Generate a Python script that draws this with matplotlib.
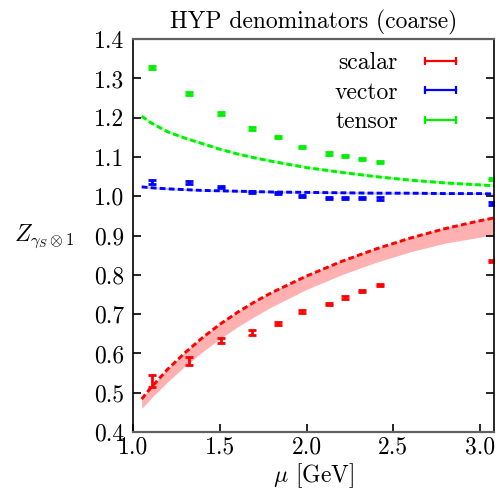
import numpy as np
import matplotlib
matplotlib.use("Agg")
import matplotlib.pyplot as plt
from matplotlib.lines import Line2D
from matplotlib.ticker import FormatStrFormatter

plt.rcParams["font.family"] = "serif"
plt.rcParams["font.serif"] = ["cmr10", "DejaVu Serif"]
plt.rcParams["mathtext.fontset"] = "cm"
plt.rcParams["axes.formatter.use_mathtext"] = True

# lattice points (mu in GeV)
mu_pts = [1.108, 1.325, 1.509, 1.686, 1.836, 1.974, 2.130, 2.219, 2.318, 2.424, 3.069]

scalar_val = [0.530, 0.581, 0.633, 0.653, 0.677, 0.706, 0.726, 0.742, 0.759, 0.775, 0.835]
scalar_err = [0.015, 0.0105, 0.0076, 0.006, 0.004, 0.004, 0.003, 0.003, 0.003, 0.003, 0.003]

vector_val = [1.037, 1.035, 1.024, 1.011, 1.009, 1.000, 0.996, 0.996, 0.996, 0.994, 0.982]
vector_err = [0.005, 0.003, 0.003, 0.003, 0.003, 0.003, 0.003, 0.003, 0.003, 0.003, 0.003]

tensor_val = [1.328, 1.262, 1.211, 1.173, 1.151, 1.126, 1.109, 1.102, 1.095, 1.087, 1.044]
tensor_err = [0.004, 0.003, 0.003, 0.003, 0.003, 0.003, 0.003, 0.003, 0.003, 0.003, 0.003]

# perturbative curves
mu_curve = [1.05, 1.1, 1.2, 1.3, 1.4, 1.5, 1.6, 1.7, 1.8, 2.0, 2.2, 2.4, 2.6, 2.8, 3.0, 3.08]
scalar_line = [0.484, 0.511, 0.560, 0.602, 0.640, 0.674, 0.704, 0.731, 0.755, 0.797,
               0.834, 0.866, 0.894, 0.918, 0.938, 0.945]
scalar_low = [0.460, 0.484, 0.528, 0.568, 0.604, 0.637, 0.667, 0.694, 0.719, 0.763,
              0.800, 0.832, 0.859, 0.881, 0.896, 0.901]
vector_line = [1.024, 1.022, 1.019, 1.017, 1.015, 1.014, 1.013, 1.012, 1.011, 1.010,
               1.009, 1.008, 1.008, 1.007, 1.007, 1.006]
tensor_line = [1.204, 1.188, 1.164, 1.148, 1.134, 1.120, 1.108, 1.098, 1.089, 1.073,
               1.061, 1.050, 1.041, 1.034, 1.029, 1.027]

RED, BLUE, GREEN = "#ff0000", "#0000ff", "#00ee00"
FS = 17

fig = plt.figure(figsize=(5.03, 4.96), dpi=100)
ax = fig.add_axes([0.2644, 0.129, 0.7176, 0.792])

sl = np.array(scalar_line)
vl = np.array(vector_line)
tl = np.array(tensor_line)

ax.fill_between(mu_curve, scalar_low, sl + 0.002, color="#ffb0b0", lw=0)
ax.fill_between(mu_curve, vl - 0.002, vl + 0.003, color="#c8c8ff", lw=0)
ax.fill_between(mu_curve, tl - 0.002, tl + 0.005, color="#b0ffb0", lw=0)

dash = (0, (2.0, 1.1))
ax.plot(mu_curve, scalar_line, color=RED, lw=2.1, ls=dash)
ax.plot(mu_curve, vector_line, color=BLUE, lw=2.1, ls=dash)
ax.plot(mu_curve, tensor_line, color=GREEN, lw=2.1, ls=dash)

for vals, errs, c in [(scalar_val, scalar_err, RED),
                      (vector_val, vector_err, BLUE),
                      (tensor_val, tensor_err, GREEN)]:
    ax.errorbar(mu_pts, vals, yerr=errs, fmt="none", ecolor=c,
                elinewidth=2.0, capsize=3.0, capthick=2.0)

ax.set_xlim(1.0, 3.08)
ax.set_ylim(0.4, 1.4)
ax.set_xticks([1.0, 1.5, 2.0, 2.5, 3.0])
ax.set_yticks(np.arange(0.4, 1.41, 0.1))
ax.xaxis.set_major_formatter(FormatStrFormatter("%.1f"))
ax.yaxis.set_major_formatter(FormatStrFormatter("%.1f"))
ax.tick_params(axis="both", direction="in", length=6, width=1.2,
               labelsize=FS, colors="black", pad=6)
ax.tick_params(axis="y", right=True)
ax.tick_params(axis="x", top=False, pad=3)

for side in ["top", "bottom"]:
    ax.spines[side].set_color("#606060")
    ax.spines[side].set_linewidth(1.6)
for side in ["left", "right"]:
    ax.spines[side].set_color("black")
    ax.spines[side].set_linewidth(1.2)

ax.set_title("HYP denominators (coarse)", fontsize=FS, pad=8)
ax.set_xlabel(r"$\mu$ [GeV]", fontsize=FS, labelpad=2)
fig.text(14 / 503, 1 - 241 / 496, r"$Z_{\gamma_S\otimes\mathbf{1}}$",
         fontsize=FS, ha="left", va="baseline")

handles = [Line2D([], [], color=c, lw=1.6, marker="|", markersize=6,
                  markeredgewidth=1.6) for c in (RED, BLUE, GREEN)]
ax.legend(handles, ["scalar", "vector", "tensor"], loc="upper right",
          bbox_to_anchor=(0.914, 0.967), frameon=False, markerfirst=False,
          numpoints=2, fontsize=FS, handlelength=1.9, handletextpad=0.85,
          labelspacing=0.31, borderaxespad=0.0, borderpad=0.0)

fig.savefig("out.png", dpi=100)
